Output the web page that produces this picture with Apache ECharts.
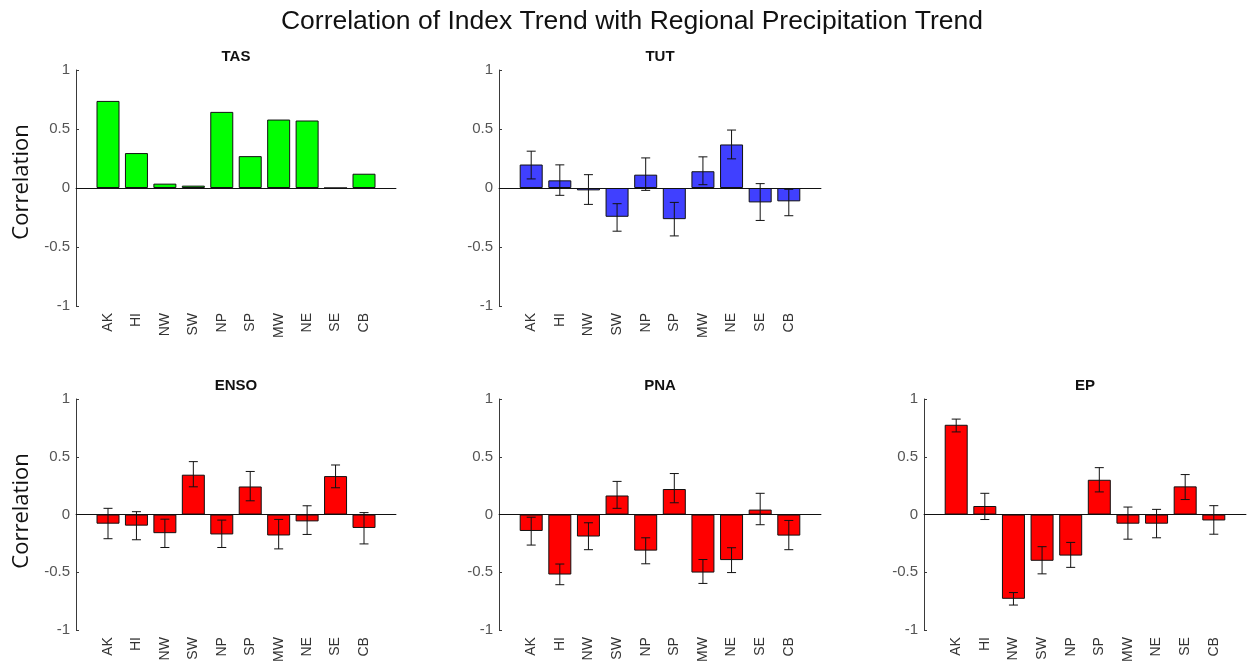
<!DOCTYPE html>
<html>
<head>
<meta charset="utf-8">
<script src="https://cdn.jsdelivr.net/npm/echarts@6/dist/echarts.min.js"></script>
<style>
html,body{margin:0;padding:0;background:#fff;}
#chart{width:1247px;height:665px;}
</style>
</head>
<body>
<div id="chart"></div>
<script>
const categories = ['AK','HI','NW','SW','NP','SP','MW','NE','SE','CB'];
const yTicks = [-1, -0.5, 0, 0.5, 1];

const tasValues = [0.738, 0.296, 0.037, 0.020, 0.645, 0.270, 0.580, 0.572, 0.000, 0.121];

const tutValues = [0.199, 0.065, -0.020, -0.244, 0.113, -0.264, 0.142, 0.369, -0.122, -0.113];
const tutLow    = [0.077, -0.062, -0.139, -0.366, -0.020, -0.406, 0.028, 0.247, -0.275, -0.235];
const tutHigh   = [0.312, 0.196, 0.113, -0.133, 0.255, -0.122, 0.264, 0.491, 0.037, -0.011];

const ensoValues = [-0.079, -0.096, -0.161, 0.345, -0.172, 0.243, -0.181, -0.059, 0.333, -0.116];
const ensoLow    = [-0.209, -0.218, -0.285, 0.240, -0.285, 0.119, -0.297, -0.172, 0.232, -0.254];
const ensoHigh   = [0.054, 0.025, -0.040, 0.458, -0.048, 0.373, -0.042, 0.076, 0.429, 0.017];

const pnaValues = [-0.142, -0.519, -0.190, 0.165, -0.312, 0.221, -0.502, -0.394, 0.043, -0.182];
const pnaLow    = [-0.264, -0.607, -0.304, 0.054, -0.426, 0.102, -0.596, -0.502, -0.088, -0.304];
const pnaHigh   = [-0.023, -0.428, -0.071, 0.287, -0.201, 0.355, -0.389, -0.287, 0.184, -0.051];

const epValues = [0.777, 0.074, -0.729, -0.400, -0.355, 0.301, -0.079, -0.079, 0.244, -0.051];
const epLow    = [0.715, -0.043, -0.783, -0.513, -0.457, 0.196, -0.213, -0.201, 0.130, -0.170];
const epHigh   = [0.826, 0.184, -0.675, -0.278, -0.241, 0.406, 0.065, 0.045, 0.346, 0.077];

const panels = [
  {name:'TAS',  values:tasValues,  low:null,     high:null,     color:'#00ff00', grid:{left:76,  top:70,  width:320, height:236}},
  {name:'TUT',  values:tutValues,  low:tutLow,   high:tutHigh,  color:'#4040ff', grid:{left:499, top:70,  width:322, height:236}},
  {name:'ENSO', values:ensoValues, low:ensoLow,  high:ensoHigh, color:'#ff0000', grid:{left:76,  top:399, width:320, height:236}},
  {name:'PNA',  values:pnaValues,  low:pnaLow,   high:pnaHigh,  color:'#ff0000', grid:{left:499, top:399, width:322, height:236}},
  {name:'EP',   values:epValues,   low:epLow,    high:epHigh,   color:'#ff0000', grid:{left:924, top:399, width:322, height:236}}
];

const chart = echarts.init(document.getElementById('chart'));
const grids = [], xAxes = [], yAxes = [], series = [], graphics = [];

graphics.push({type:'text', x:632, y:22, style:{text:'Correlation of Index Trend with Regional Precipitation Trend', font:'26.5px "Liberation Sans", Arial, sans-serif', fill:'#111', textAlign:'center', textVerticalAlign:'middle'}});

panels.forEach((p, i) => {
  grids.push(Object.assign({containLabel:false}, p.grid));
  xAxes.push({
    type:'value', gridIndex:i, min:-0.125, max:11.125, interval:0.125,
    axisLine:{show:true, lineStyle:{color:'#3a3a3a', width:1}},
    axisTick:{show:false}, splitLine:{show:false},
    axisLabel:{
      rotate:90, margin:7, color:'#333', fontSize:14, fontFamily:'"Liberation Sans", Arial, sans-serif',
      formatter: v => {
        const r = Math.round(v);
        return (Math.abs(v - r) < 1e-6 && r >= 1 && r <= categories.length) ? categories[r-1] : '';
      }
    }
  });
  yAxes.push({
    type:'value', gridIndex:i, min:yTicks[0], max:yTicks[yTicks.length-1], interval:0.5,
    axisLine:{show:true, onZero:false, lineStyle:{color:'#3a3a3a', width:1}},
    axisTick:{show:true, inside:true, length:3, lineStyle:{color:'#3a3a3a'}},
    splitLine:{show:false},
    axisLabel:{color:'#555', fontSize:15, margin:6, fontFamily:'"Liberation Sans", Arial, sans-serif'}
  });
  series.push({
    type:'bar', xAxisIndex:i, yAxisIndex:i, barWidth:23,
    data:p.values.map((v, k) => [k+1, v]),
    itemStyle:{color:p.color, borderColor:'#111', borderWidth:1},
    markLine:{silent:true, symbol:['none','none'], label:{show:false},
      lineStyle:{color:'#111', width:1, type:'solid'}, data:[{yAxis:0}]},
    z:2
  });
  if (p.low) {
    series.push({
      type:'custom', xAxisIndex:i, yAxisIndex:i, z:5,
      data:p.values.map((v, k) => [k+1, p.low[k], p.high[k]]),
      renderItem:(params, api) => {
        const x = api.value(0);
        const lo = api.coord([x, api.value(1)]);
        const hi = api.coord([x, api.value(2)]);
        const hw = 4.5;
        const st = {stroke:'#111', lineWidth:1};
        return {type:'group', children:[
          {type:'line', shape:{x1:lo[0], y1:lo[1], x2:hi[0], y2:hi[1]}, style:st},
          {type:'line', shape:{x1:lo[0]-hw, y1:lo[1], x2:lo[0]+hw, y2:lo[1]}, style:st},
          {type:'line', shape:{x1:hi[0]-hw, y1:hi[1], x2:hi[0]+hw, y2:hi[1]}, style:st}
        ]};
      }
    });
  }
  const g = p.grid;
  graphics.push({type:'text', x:g.left + g.width/2, y:g.top - 13, style:{text:p.name, font:'bold 15px "Liberation Sans", Arial, sans-serif', fill:'#111', textAlign:'center', textVerticalAlign:'middle'}});
  if (g.left < 100) {
    graphics.push({type:'text', x:22, y:g.top + g.height/2 - 6, rotation:Math.PI/2, style:{text:'Correlation', font:'22px "Open Sans", Arial, sans-serif', fill:'#111', textAlign:'center', textVerticalAlign:'middle'}});
  }
});

chart.setOption({
  animation:false,
  backgroundColor:'#fff',
  grid:grids, xAxis:xAxes, yAxis:yAxes, series:series,
  graphic:{elements:graphics}
});
</script>
</body>
</html>
